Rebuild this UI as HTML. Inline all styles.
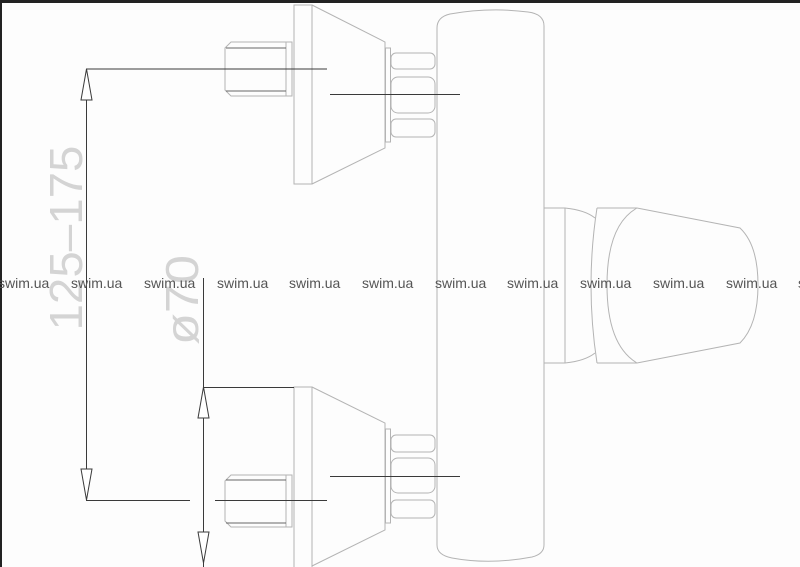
<!DOCTYPE html>
<html><head><style>
html,body{margin:0;padding:0;background:#fdfdfd;}
svg{display:block;}
</style></head><body>
<svg width="800" height="567" viewBox="0 0 800 567" xmlns="http://www.w3.org/2000/svg">
<rect x="0" y="0" width="800" height="567" fill="#fdfdfd"/>
<rect x="0" y="0" width="800" height="3" fill="#222"/>
<rect x="0" y="0" width="2" height="567" fill="#222"/>

<g fill="none" stroke="#b4b4b4" stroke-width="1">
<rect x="294" y="5" width="18" height="179"/>
<path d="M312 5 L385 42 L385 148 L312 184"/>
<rect x="385.5" y="48" width="5" height="94"/>
<rect x="391" y="53" width="44" height="16" rx="5"/>
<rect x="391" y="77" width="44" height="36" rx="7"/>
<rect x="391" y="119" width="44" height="18" rx="5"/>
<path d="M231 42 L292 42 L292 96 L231 96 L225 90 L225 48 Z"/>
<line x1="286" y1="42" x2="286" y2="96"/>
<rect x="294" y="387" width="18" height="185"/>
<path d="M312 387 L385 423 L385 530 L312 566"/>
<rect x="385.5" y="429" width="5" height="94"/>
<rect x="391" y="435" width="44" height="17" rx="5"/>
<rect x="391" y="458" width="44" height="35" rx="7"/>
<rect x="391" y="500" width="44" height="18" rx="5"/>
<path d="M231 475 L292 475 L292 527 L231 527 L225 521 L225 481 Z"/>
<line x1="286" y1="475" x2="286" y2="527"/>
<path d="M437 28 Q437 17 450 14 Q490 7 528 12 Q544 14 544 26 L544 545 Q544 554 532 557 Q490 565 452 558 Q437 555 437 545 Z"/>
<path d="M544 208 L565 208 Q585 210 595 218"/>
<path d="M544 363 L565 363 Q585 361 595 353"/>
<line x1="565" y1="208" x2="565" y2="363"/>
<path d="M597 208 Q585 285 597 363"/>
<path d="M597 208 L637 208 L740 228 Q758 245 758 285 Q758 325 740 343 L637 363 L597 363"/>
<path d="M637 208 Q607 225 607 285 Q607 345 637 363"/>
</g>

<g stroke="#3a3a3a" stroke-width="1" fill="none">
<line x1="86" y1="69" x2="327" y2="69"/>
<line x1="330" y1="94.5" x2="460" y2="94.5"/>
<line x1="330" y1="476.5" x2="460" y2="476.5"/>
<line x1="86" y1="500.5" x2="190" y2="500.5"/>
<line x1="215" y1="500.5" x2="327" y2="500.5"/>
<line x1="226" y1="48" x2="286" y2="48" stroke="#666"/>
<line x1="226" y1="91" x2="286" y2="91" stroke="#666"/>
<line x1="226" y1="480" x2="286" y2="480" stroke="#666"/>
<line x1="226" y1="523" x2="286" y2="523" stroke="#666"/>
<line x1="86.5" y1="69" x2="86.5" y2="500"/>
<path d="M86.5 69 L81 100 L92 100 Z" fill="#fff"/>
<path d="M86.5 500 L81 469 L92 469 Z" fill="#fff"/>
<line x1="203.5" y1="278" x2="203.5" y2="567"/>
<line x1="203" y1="387.5" x2="294" y2="387.5"/>
<path d="M203.5 387 L198 418 L209 418 Z" fill="#fff"/>
<path d="M203.5 563 L198 532 L209 532 Z" fill="#fff"/>
</g>

<g font-family="Liberation Sans, sans-serif" fill="#d4d4d4">
<text transform="translate(82,238) rotate(-90)" font-size="46" text-anchor="middle" textLength="185" lengthAdjust="spacingAndGlyphs">125–175</text>
<text transform="translate(198,300) rotate(-90)" font-size="46" text-anchor="middle" textLength="90" lengthAdjust="spacingAndGlyphs">ø70</text>
</g>

<g font-family="Liberation Sans, sans-serif" font-size="14" fill="#555">
<text x="-2" y="288">swim.ua</text>
<text x="71" y="288">swim.ua</text>
<text x="144" y="288">swim.ua</text>
<text x="217" y="288">swim.ua</text>
<text x="289" y="288">swim.ua</text>
<text x="362" y="288">swim.ua</text>
<text x="435" y="288">swim.ua</text>
<text x="507" y="288">swim.ua</text>
<text x="580" y="288">swim.ua</text>
<text x="653" y="288">swim.ua</text>
<text x="726" y="288">swim.ua</text>
<text x="798" y="288">swim.ua</text>
</g>
</svg>
</body></html>
